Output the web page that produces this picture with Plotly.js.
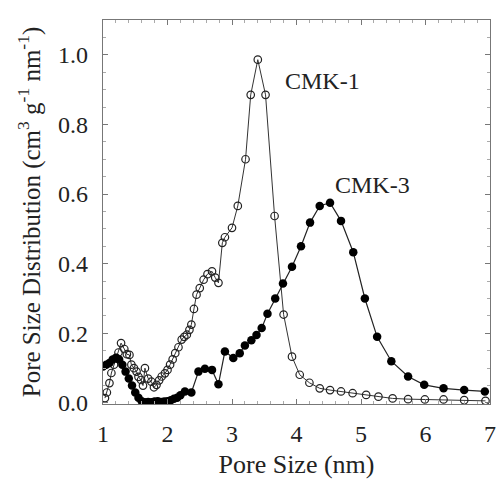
<!DOCTYPE html>
<html><head><meta charset="utf-8">
<script src="https://cdn.plot.ly/plotly-3.0.1.min.js"></script>
<style>html,body{margin:0;padding:0;background:#fff}#chart{width:496px;height:479px}</style>
</head><body><div id="chart"></div>
<script>
var cmk1X = [1.03,1.06,1.10,1.13,1.17,1.21,1.24,1.28,1.33,1.37,1.41,1.44,1.48,1.52,1.55,1.59,1.62,1.65,1.70,1.75,1.79,1.83,1.87,1.91,1.96,2.00,2.04,2.08,2.12,2.17,2.22,2.26,2.30,2.34,2.37,2.41,2.45,2.50,2.56,2.62,2.69,2.74,2.79,2.85,2.89,3.00,3.09,3.21,3.29,3.40,3.52,3.66,3.80,3.93,4.05,4.20,4.36,4.52,4.69,4.87,5.08,5.27,5.49,5.73,5.99,6.28,6.60,6.93];
var cmk1Y = [0.014,0.03,0.057,0.086,0.11,0.129,0.145,0.172,0.155,0.14,0.138,0.11,0.10,0.09,0.075,0.066,0.05,0.10,0.07,0.061,0.045,0.052,0.065,0.076,0.085,0.095,0.11,0.125,0.143,0.16,0.182,0.19,0.196,0.21,0.225,0.27,0.311,0.33,0.354,0.37,0.378,0.36,0.345,0.46,0.476,0.503,0.566,0.70,0.885,0.986,0.885,0.537,0.254,0.133,0.081,0.058,0.042,0.037,0.033,0.028,0.023,0.018,0.013,0.011,0.010,0.010,0.008,0.006];
var cmk3X = [1.00,1.05,1.10,1.15,1.20,1.25,1.30,1.35,1.40,1.45,1.50,1.55,1.60,1.65,1.70,1.75,1.80,1.85,1.90,1.95,2.00,2.05,2.10,2.15,2.20,2.27,2.37,2.48,2.58,2.69,2.79,2.89,3.02,3.12,3.20,3.30,3.38,3.46,3.55,3.67,3.79,3.93,4.07,4.21,4.36,4.52,4.69,4.88,5.06,5.25,5.47,5.73,5.98,6.28,6.60,6.92];
var cmk3Y = [0.105,0.11,0.115,0.125,0.13,0.125,0.11,0.09,0.07,0.05,0.03,0.015,0.005,0.002,0.003,0.002,0.004,0.005,0.003,0.004,0.005,0.008,0.012,0.015,0.022,0.033,0.03,0.09,0.098,0.095,0.054,0.148,0.129,0.143,0.165,0.18,0.195,0.215,0.256,0.30,0.343,0.391,0.45,0.518,0.566,0.575,0.523,0.433,0.30,0.19,0.12,0.076,0.052,0.042,0.037,0.033];
var labels = ["CMK-1", "CMK-3"];
var labelX = [3.79, 4.57];
var labelY = [0.925, 0.625];

var serif = "Liberation Serif";
var traces = [
  {x: cmk1X, y: cmk1Y, mode: "lines+markers", name: labels[0],
   line: {color: "#333", width: 1},
   marker: {symbol: "circle-open", size: 7.5, color: "#222", line: {width: 1.2, color: "#222"}}},
  {x: cmk3X, y: cmk3Y, mode: "lines+markers", name: labels[1],
   line: {color: "#222", width: 1.2},
   marker: {symbol: "circle", size: 8.5, color: "#000"}}
];
var axisCommon = {
  showgrid: false, zeroline: false, showline: true, linecolor: "#777", linewidth: 1.3,
  mirror: "ticks", ticks: "inside", ticklen: 5, tickcolor: "#777",
  tickfont: {family: serif, size: 24, color: "#222"},
  minor: {ticks: "inside", ticklen: 3, tickcolor: "#aaa"}
};
var layout = {
  width: 496, height: 479,
  margin: {l: 103, r: 6, t: 20, b: 75},
  paper_bgcolor: "#fff", plot_bgcolor: "#fff",
  showlegend: false,
  xaxis: Object.assign({}, axisCommon, {range: [1, 7], dtick: 1, tick0: 1, ticklabelstandoff: 8,
    title: {text: "Pore Size (nm)", font: {family: serif, size: 26, color: "#222"}, standoff: 9}}),
  yaxis: Object.assign({}, axisCommon, {range: [-0.003, 1.1], dtick: 0.2, tick0: 0, tickformat: ".1f", ticklabelstandoff: 9,
    title: {text: "Pore Size Distribution (cm<sup>3</sup> g<sup>-1</sup> nm<sup>-1</sup>)", font: {family: serif, size: 25, color: "#222"}, standoff: 10}}),
  annotations: labels.map(function(t, i){ return {
    x: labelX[i], y: labelY[i], xref: "x", yref: "y", text: t, showarrow: false,
    xanchor: "left", yanchor: "middle", font: {family: serif, size: 24, color: "#222"}}; })
};
Plotly.newPlot("chart", traces, layout, {displayModeBar: false, staticPlot: true});
</script></body></html>
